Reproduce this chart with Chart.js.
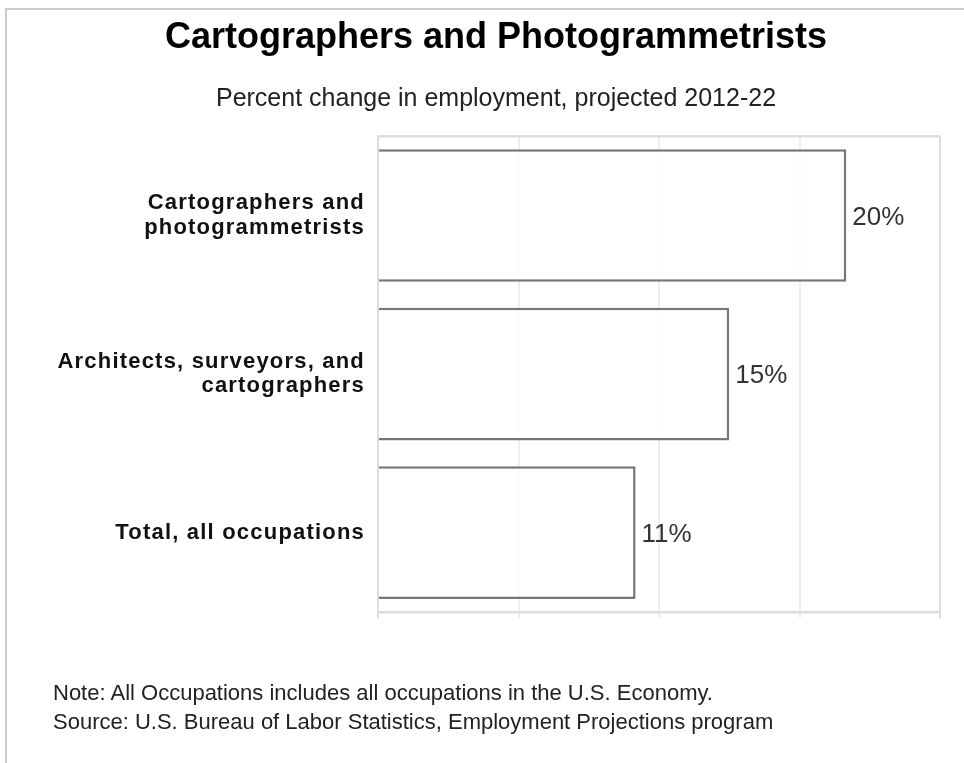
<!DOCTYPE html>
<html>
<head>
<meta charset="utf-8">
<script src="https://cdn.jsdelivr.net/npm/chart.js@4.4.0/dist/chart.umd.min.js"></script>
<style>
  html, body { margin: 0; padding: 0; background: #fff; overflow: hidden; }
  #frame { position: absolute; left: 5px; top: 8px; width: 1200px; height: 1000px; border-left: 2px solid #ccc; border-top: 2px solid #ccc; }
  #wrap { position: absolute; left: 0; top: 0; width: 964px; height: 763px; }
  #notes { position: absolute; left: 53px; top: 678px; font-family: "Liberation Sans", Arial, sans-serif; font-size: 22px; line-height: 29px; color: #222; white-space: nowrap; }
</style>
</head>
<body>
<div id="frame"></div>
<div id="wrap"><canvas id="myBarChart"></canvas></div>
<div id="notes">Note: All Occupations includes all occupations in the U.S. Economy.<br>Source: U.S. Bureau of Labor Statistics, Employment Projections program</div>
<script>
var titleText = 'Cartographers and Photogrammetrists';
var subtitleText = 'Percent change in employment, projected 2012-22';
var labels = [['Cartographers and', 'photogrammetrists'], ['Architects, surveyors, and', 'cartographers'], 'Total, all occupations'];
var values = [20, 15, 11];
var xTicks = [0, 6, 12, 18, 24];

var fontFamily = '"Liberation Sans", Arial, sans-serif';

// percent labels at the end of each bar
var valueLabels = {
    id: 'valueLabels',
    afterDatasetsDraw: function(chart) {
        var ctx = chart.ctx;
        var meta = chart.getDatasetMeta(0);
        ctx.save();
        ctx.font = '26px ' + fontFamily;
        ctx.fillStyle = '#333';
        ctx.textAlign = 'left';
        ctx.textBaseline = 'middle';
        meta.data.forEach(function(bar, i) {
            ctx.fillText(values[i] + '%', bar.x + 6, bar.y + 2);
        });
        ctx.restore();
    }
};

// the category labels are letter-spaced in the original
var spacedLabels = {
    id: 'spacedLabels',
    beforeDraw: function(chart) {
        var yScale = chart.scales.y;
        if (yScale._spaced) return;
        var orig = yScale.drawLabels;
        yScale.drawLabels = function(area) {
            var ctx = this.ctx;
            ctx.save();
            ctx.letterSpacing = '1.2px';
            orig.call(this, area);
            ctx.restore();
        };
        yScale._spaced = true;
    }
};

var ctx = document.getElementById('myBarChart');
var myChart = new Chart(ctx, {
    type: 'bar',
    data: {
        labels: labels,
        datasets: [{
            data: values,
            backgroundColor: 'rgba(255,255,255,0.8)',
            borderColor: '#777',
            borderWidth: 2.5,
            categoryPercentage: 0.9,
            barPercentage: 0.93
        }]
    },
    options: {
        indexAxis: 'y',
        responsive: true,
        maintainAspectRatio: false,
        animation: false,
        layout: { padding: { left: 52, right: 24, top: 0, bottom: 145 } },
        plugins: {
            legend: { display: false },
            tooltip: { enabled: false },
            title: {
                display: true,
                text: titleText,
                color: '#000',
                font: { family: fontFamily, size: 36, weight: 'bold' },
                padding: { top: 16, bottom: 0 }
            },
            subtitle: {
                display: true,
                text: subtitleText,
                color: '#222',
                font: { family: fontFamily, size: 25, weight: 'normal' },
                padding: { top: 25, bottom: 22 }
            }
        },
        scales: {
            x: {
                min: xTicks[0],
                max: xTicks[xTicks.length - 1],
                ticks: { display: false, stepSize: xTicks[1] - xTicks[0] },
                grid: {
                    color: function(c) {
                        return (c.index === 0 || c.index === xTicks.length - 1) ? '#ddd' : '#eee';
                    },
                    lineWidth: 2,
                    drawTicks: true,
                    tickLength: 6
                },
                border: { color: '#ddd', width: 2.5 }
            },
            y: {
                ticks: {
                    padding: 13,
                    color: '#111',
                    font: { family: fontFamily, size: 22, weight: 'bold', lineHeight: 1.12 }
                },
                grid: {
                    color: function(c) {
                        return c.index === 0 ? '#ddd' : 'rgba(0,0,0,0)';
                    },
                    lineWidth: 2.5,
                    drawTicks: false
                },
                border: { color: '#ddd', width: 2 },
                afterFit: function(scale) {
                    scale.width = 326;
                }
            }
        }
    },
    plugins: [valueLabels, spacedLabels]
});
</script>
</body>
</html>
